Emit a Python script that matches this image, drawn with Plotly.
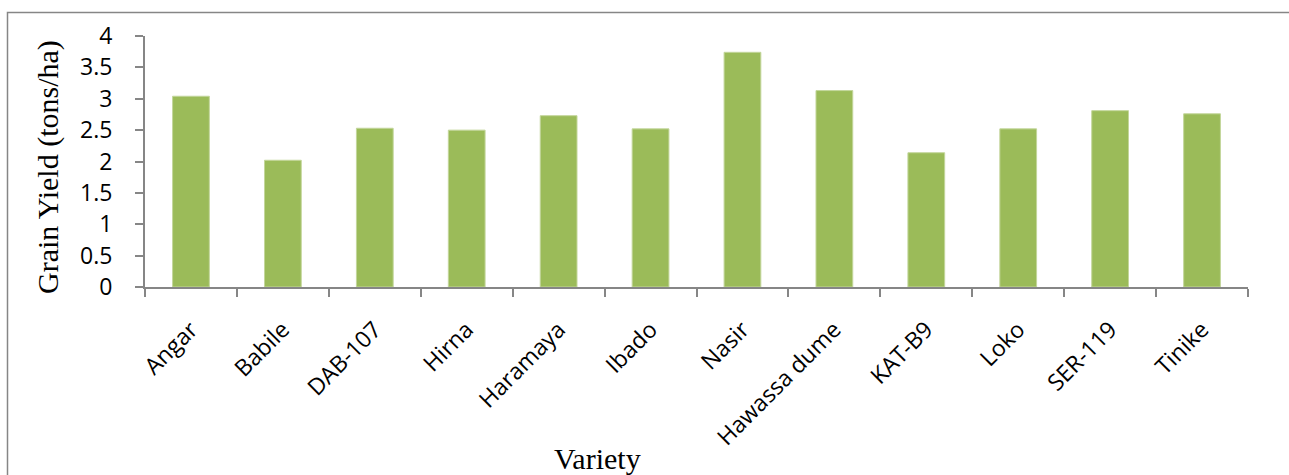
import plotly.graph_objects as go

varieties = ["Angar", "Babile", "DAB-107", "Hirna", "Haramaya", "Ibado", "Nasir",
             "Hawassa dume", "KAT-B9", "Loko", "SER-119", "Tinike"]
grain_yield = [3.04, 2.02, 2.53, 2.50, 2.73, 2.52, 3.74, 3.13, 2.14, 2.52, 2.81, 2.76]
y_ticks = [0, 0.5, 1, 1.5, 2, 2.5, 3, 3.5, 4]
y_tick_text = ["0", "0.5", "1", "1.5", "2", "2.5", "3", "3.5", "4"]

W, H = 1289, 475
L, R, T, B = 145, 41, 36, 188
pw, ph = W - L - R, H - T - B

def px(x):
    return (x - L) / pw

def py(y):
    return (H - B - y) / ph

fig = go.Figure(go.Bar(
    x=varieties, y=grain_yield, width=0.4,
    marker=dict(color="#9BBB59", line=dict(color="#C3D69B", width=1)),
))

axis_col = "#868686"
tick_font = dict(family="Open Sans", size=23, color="#000000")

fig.update_layout(
    width=W, height=H,
    margin=dict(l=L, r=R, t=T, b=B),
    paper_bgcolor="white", plot_bgcolor="white",
    showlegend=False,
    xaxis=dict(
        type="category", tickangle=-45, tickson="boundaries",
        ticks="outside", ticklen=8, tickcolor=axis_col, tickwidth=2,
        showline=True, linecolor=axis_col, linewidth=2,
        showgrid=False, tickfont=tick_font, ticklabelstandoff=18,
    ),
    yaxis=dict(
        range=[0, 4], tickvals=y_ticks, ticktext=y_tick_text,
        ticks="outside", ticklen=8, tickcolor=axis_col, tickwidth=2,
        showline=True, linecolor=axis_col, linewidth=2,
        showgrid=False, zeroline=False, tickfont=tick_font, ticklabelstandoff=18,
    ),
    annotations=[
        dict(text="Grain Yield (tons/ha)", xref="paper", yref="paper",
             x=px(48), y=py(167), textangle=-90, showarrow=False,
             font=dict(family="Liberation Serif", size=30, color="#000000"),
             xanchor="center", yanchor="middle"),
        dict(text="Variety", xref="paper", yref="paper",
             x=px(597), y=py(459), showarrow=False,
             font=dict(family="Liberation Serif", size=30, color="#000000"),
             xanchor="center", yanchor="middle"),
    ],
    shapes=[
        dict(type="rect", xref="paper", yref="paper",
             x0=px(7.5), x1=px(1310), y0=py(500), y1=py(12.5),
             line=dict(color="#868686", width=1.5), fillcolor="rgba(0,0,0,0)",
             layer="below"),
    ],
)

fig.write_html("out.html")
